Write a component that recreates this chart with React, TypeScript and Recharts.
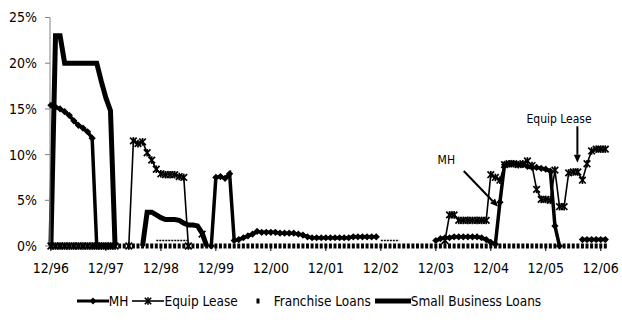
import React from "react";
import {
  LineChart,
  Line,
  XAxis,
  YAxis,
  Legend,
  ReferenceLine,
  ReferenceDot,
} from "recharts";

const FONT = "'Liberation Sans Narrow', 'Arial Narrow', 'DejaVu Sans Condensed', sans-serif";
const _ = null;

// month index 0 = 12/96 ... 121 = 1/07
const yearTicks = [0, 12, 24, 36, 48, 60, 72, 84, 96, 108, 120];
const yearLabels = ["12/96", "12/97", "12/98", "12/99", "12/00", "12/01", "12/02", "12/03", "12/04", "12/05", "12/06"];

const mh = [
  15.4, 15.2, 15.0, 14.7, 14.3, 13.7, 13.2, 12.9, 12.5, 11.8, 0, 0, 0, 0,
  _, _, _, _, _, _, _, _, _, _, _, _, _, _, _, _, _, _, _, _, _,
  0, 7.5, 7.6, 7.4, 7.9, 0.6, 0.7, 0.9, 1.1, 1.3, 1.6, 1.5, 1.5, 1.5, 1.5,
  1.4, 1.4, 1.4, 1.4, 1.3, 1.2, 1.0, 0.9, 0.9, 0.9, 0.9, 0.9, 0.9, 0.9,
  0.9, 0.9, 1.0, 1.0, 1.0, 1.0, 1.0, 1.0,
  _, _, _, _, _, _, _, _, _, _, _, _,
  0.6, 0.8, 0.9, 0.9, 1.0, 1.0, 1.0, 1.0, 1.0, 1.0, 0.9, 0.7, 0.4, 0.2,
  4.8, 8.9, 9.0, 9.0, 8.9, 8.9, 8.7, 8.6, 8.6, 8.5, 8.4, 8.2, 2.2, 0,
  _, _, _, _,
  0.7, 0.7, 0.7, 0.7, 0.7, 0.7,
];

const equipLease = [
  0, 0, 0, 0, 0, 0, 0, 0, 0, 0, 0, 0, 0, 0, 0,
  _, _,
  0, 11.5, 11.2, 11.4, 10.2, 9.4, 8.4, 7.9, 7.8, 7.8, 7.8, 7.6, 7.5, 0,
  _, _,
  1.3,
  _, _, _, _, _, _, _, _, _, _, _, _, _, _, _, _, _, _, _, _, _, _, _, _, _, _,
  _, _, _, _, _, _, _, _, _, _, _, _, _, _, _, _, _, _, _, _, _, _, _, _, _, _,
  0.6, 3.4, 3.4, 2.8, 2.8, 2.8, 2.8, 2.8, 2.8, 2.8,
  7.8, 7.5, 7.2, 8.9, 9.0, 9.0, 8.9, 9.0, 9.3, 8.8,
  6.2, 5.1, 5.1, 5.0, 8.3, 4.3, 4.3, 8.0, 8.1, 8.1, 7.2, 9.0,
  10.4, 10.6, 10.6, 10.6,
];

const franchise = Array.from({ length: 122 }, () => 0);

const smallBusiness = [
  0, 23, 23, 20, 20, 20, 20, 20, 20, 20, 20, 18, 16.2, 14.8, 0,
  _, _, _, _, _,
  0, 3.7, 3.7, 3.4, 3.1, 2.9, 2.9, 2.9, 2.8, 2.5, 2.3, 2.3, 2.2, 1.4, 0,
];

// thin dotted traces just above the baseline
const lowTrace: (number | null)[] = [];
lowTrace[23] = 0.6; lowTrace[24] = 0.6; lowTrace[25] = 0.6; lowTrace[26] = 0.6;
lowTrace[27] = 0.6; lowTrace[28] = 0.6; lowTrace[29] = 0.6; lowTrace[30] = 0.6;
lowTrace[72] = 0.6; lowTrace[73] = 0.6; lowTrace[74] = 0.6; lowTrace[75] = 0.6; lowTrace[76] = 0.6;

const data = franchise.map((f, i) => ({
  m: i,
  mh: mh[i] ?? null,
  el: equipLease[i] ?? null,
  fr: f,
  sb: smallBusiness[i] ?? null,
  low: lowTrace[i] ?? null,
}));

const Diamond = (p: any) => {
  if (p.cy == null || p.value == null) return <g key={p.key} />;
  const { cx, cy } = p;
  const s = 3.6;
  return <polygon key={p.key} points={`${cx},${cy - s} ${cx + s},${cy} ${cx},${cy + s} ${cx - s},${cy}`} fill="#000" />;
};

const Star = (p: any) => {
  if (p.cy == null || p.value == null) return <g key={p.key} />;
  const { cx, cy } = p;
  const s = 3.3;
  return (
    <g key={p.key} stroke="#000" strokeWidth={1.7}>
      <line x1={cx - s} y1={cy - s} x2={cx + s} y2={cy + s} />
      <line x1={cx - s} y1={cy + s} x2={cx + s} y2={cy - s} />
      <line x1={cx} y1={cy - s - 0.5} x2={cx} y2={cy + s + 0.5} />
    </g>
  );
};

const Square = (p: any) => {
  if (p.cy == null || p.value == null) return <g key={p.key} />;
  return <rect key={p.key} x={p.cx - 1.5} y={p.cy - 2.5} width={3} height={5} fill="#000" />;
};

const Arrow = (p: any) => {
  const { x1, y1, x2, y2 } = p;
  const ang = Math.atan2(y2 - y1, x2 - x1);
  const L = 8;
  const W = 3.5;
  const bx = x2 - L * Math.cos(ang);
  const by = y2 - L * Math.sin(ang);
  const px = -Math.sin(ang) * W;
  const py = Math.cos(ang) * W;
  return (
    <g>
      <line x1={x1} y1={y1} x2={bx} y2={by} stroke="#000" strokeWidth={2} />
      <polygon points={`${x2},${y2} ${bx + px},${by + py} ${bx - px},${by - py}`} fill="#000" />
    </g>
  );
};

function ChartLegend() {
  const item = { display: "flex", alignItems: "center", marginRight: 4 } as const;
  return (
    <div style={{ display: "flex", justifyContent: "center", alignItems: "center", fontFamily: FONT, fontSize: 13.5, color: "#000" }}>
      <div style={item}>
        <svg width={32} height={10}>
          <line x1={0} y1={5} x2={32} y2={5} stroke="#000" strokeWidth={3} />
          <polygon points="16,1.5 19.5,5 16,8.5 12.5,5" fill="#000" />
        </svg>
        <span>MH</span>
      </div>
      <div style={item}>
        <svg width={32} height={10}>
          <line x1={0} y1={5} x2={32} y2={5} stroke="#000" strokeWidth={1.6} />
          <g stroke="#000" strokeWidth={1.6}>
            <line x1={12.8} y1={1.8} x2={19.2} y2={8.2} />
            <line x1={12.8} y1={8.2} x2={19.2} y2={1.8} />
            <line x1={16} y1={1.3} x2={16} y2={8.7} />
          </g>
        </svg>
        <span>Equip Lease</span>
      </div>
      <div style={item}>
        <svg width={32} height={10}>
          <rect x={14.5} y={2.5} width={3} height={5} fill="#000" />
        </svg>
        <span>Franchise Loans</span>
      </div>
      <div style={item}>
        <svg width={36} height={10}>
          <line x1={0} y1={5} x2={36} y2={5} stroke="#000" strokeWidth={5} />
        </svg>
        <span>Small Business Loans</span>
      </div>
    </div>
  );
}

export default function App() {
  return (
    <div style={{ position: "absolute", left: 0, top: 0, width: 622, height: 320, background: "#fff" }}>
      <LineChart width={622} height={320} data={data} margin={{ top: 17.5, right: 13, bottom: 44, left: 0 }}>
        <XAxis
          dataKey="m"
          type="number"
          domain={[-0.2, 121.8]}
          ticks={yearTicks}
          tickFormatter={(v: number) => yearLabels[yearTicks.indexOf(v)]}
          axisLine={false}
          tickLine={{ stroke: "#000" }}
          tickSize={5}
          tickMargin={12}
          height={30}
          tick={{ fontFamily: FONT, fontSize: 14, fill: "#000" }}
          interval={0}
        />
        <YAxis
          domain={[0, 25]}
          ticks={[0, 5, 10, 15, 20, 25]}
          tickFormatter={(v: number) => `${v}%`}
          width={50}
          axisLine={{ stroke: "#808080" }}
          tickLine={{ stroke: "#808080" }}
          tickSize={5}
          tickMargin={8}
          tick={{ fontFamily: FONT, fontSize: 14, fill: "#000" }}
        />
        <Legend
          verticalAlign="middle"
          align="center"
          layout="horizontal"
          wrapperStyle={{ top: 293, left: 0, width: 622 }}
          content={() => <ChartLegend />}
        />
        <Line dataKey="fr" name="Franchise Loans" stroke="none" dot={Square} activeDot={false} isAnimationActive={false} />
        <Line dataKey="low" stroke="#000" strokeWidth={1.5} strokeDasharray="2 1" dot={false} legendType="none" isAnimationActive={false} />
        <Line dataKey="sb" name="Small Business Loans" stroke="#000" strokeWidth={5} dot={false} isAnimationActive={false} />
        <Line dataKey="el" name="Equip Lease" stroke="#000" strokeWidth={1.6} dot={Star} isAnimationActive={false} />
        <Line dataKey="mh" name="MH" stroke="#000" strokeWidth={3.5} dot={Diamond} isAnimationActive={false} />
        <ReferenceLine segment={[{ x: 90.1, y: 8.2 }, { x: 97.6, y: 4.3 }]} shape={Arrow} />
        <ReferenceLine segment={[{ x: 114.9, y: 13.1 }, { x: 114.9, y: 9.1 }]} shape={Arrow} />
        <ReferenceDot x={86.3} y={9.4} r={0} stroke="none" fill="none"
          label={{ value: "MH", position: "center", fontSize: 12, fontFamily: FONT, fill: "#000" }} />
        <ReferenceDot x={110.9} y={13.9} r={0} stroke="none" fill="none"
          label={{ value: "Equip Lease", position: "center", fontSize: 12, fontFamily: FONT, fill: "#000" }} />
      </LineChart>
    </div>
  );
}
